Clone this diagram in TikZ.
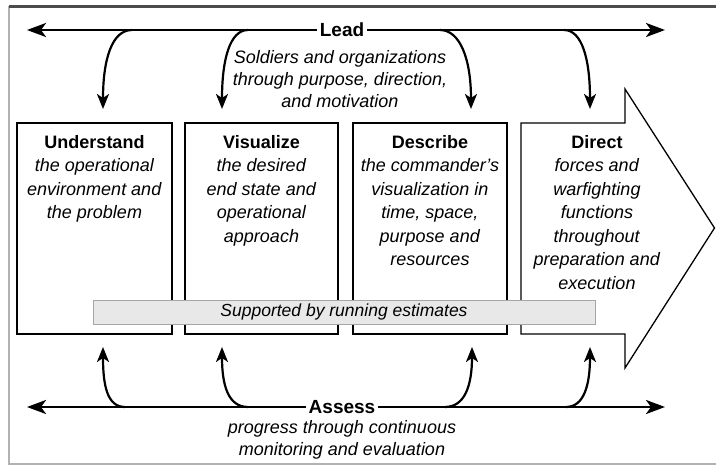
\documentclass[tikz,border=0pt]{standalone}
\usepackage{fontspec}
\setmainfont{Liberation Sans}
\usetikzlibrary{arrows.meta}
\usetikzlibrary{positioning}

\begin{document}
\begin{tikzpicture}[x=1pt,y=-1pt,
  stage/.style={draw=black,line width=1.3pt},
  stagetext/.style={anchor=north,align=center,inner sep=0pt,font=\fontsize{18}{23.5}\selectfont},
  mainline/.style={line width=2.6pt,{Stealth[length=19pt,width=14pt,inset=5pt]}-{Stealth[length=19pt,width=14pt,inset=5pt]}},
  branch/.style={line width=2.2pt,-{Stealth[length=15pt,width=12pt,inset=4pt]}},
  headword/.style={fill=white,inner sep=3pt,font=\fontsize{19}{23}\selectfont\bfseries},
  subtext/.style={anchor=north,align=center,inner sep=0pt,font=\fontsize{18}{22}\selectfont\itshape}]
 \useasboundingbox (0,0) rectangle (716,466);
 % frame
 \draw[gray!60,line width=1.4pt] (9,6) -- (9,464) -- (716,464);
 \draw[black!70,line width=3pt] (9,6) -- (716,6);
 % the four stages
 \draw[stage] (17,123) rectangle (172,334);
 \draw[stage] (185,123) rectangle (338,334);
 \draw[stage] (353,123) rectangle (507,334);
 \draw[stage,line join=miter] (521,123) -- (625,123) -- (625,89) -- (714.5,228)
   -- (625,368) -- (625,334) -- (521,334) -- cycle;
 \node[stagetext] (understand) at (94.5,135) {\textbf{Understand}\\ \textit{the operational}\\
   \textit{environment and}\\ \textit{the problem}};
 \node[stagetext] (visualize) at (261.5,135) {\textbf{Visualize}\\ \textit{the desired}\\
   \textit{end state and}\\ \textit{operational}\\ \textit{approach}};
 \node[stagetext] (describe) at (430,135) {\textbf{Describe}\\ \textit{the commander’s}\\
   \textit{visualization in}\\ \textit{time, space,}\\ \textit{purpose and}\\ \textit{resources}};
 \node[stagetext] (direct) at (597,135) {\textbf{Direct}\\ \textit{forces and}\\
   \textit{warfighting}\\ \textit{functions}\\ \textit{throughout}\\ \textit{preparation and}\\
   \textit{execution}};
 % running estimates
 \node[draw=gray!70,fill=gray!18,line width=1pt,minimum width=502pt,minimum height=24pt,
   inner sep=0pt,font=\fontsize{17.5}{20}\selectfont\itshape] (estimates) at (344,312)
   {Supported by running estimates};
 % lead
 \coordinate (leadL) at (27,30);
 \coordinate (leadR) at (665,30);
 \draw[mainline] (leadL) -- (leadR);
 \node[headword] (lead) at (342,30) {Lead};
 \node[subtext] (leadsub) at (340,50) {Soldiers and organizations\\
   through purpose, direction,\\ and motivation};
 \coordinate (l1) at (132,30);  \coordinate (d1) at (103,109);
 \coordinate (l2) at (248,30);  \coordinate (d2) at (222,109);
 \coordinate (l3) at (440,30);  \coordinate (d3) at (471,109);
 \coordinate (l4) at (564,30);  \coordinate (d4) at (590,109);
 \draw[branch] (l1) .. controls +(-20,0) and +(0,-50) .. (d1);
 \draw[branch] (l2) .. controls +(-18,0) and +(0,-50) .. (d2);
 \draw[branch] (l3) .. controls +(20,0) and +(0,-50) .. (d3);
 \draw[branch] (l4) .. controls +(18,0) and +(0,-50) .. (d4);
 % assess
 \coordinate (assessL) at (27,407);
 \coordinate (assessR) at (665,407);
 \draw[mainline] (assessL) -- (assessR);
 \node[headword] (assess) at (342,407) {Assess};
 \node[subtext] (assesssub) at (342,420) {progress through continuous\\
   monitoring and evaluation};
 \coordinate (a1) at (125,407);  \coordinate (u1) at (103,347);
 \coordinate (a2) at (248,407);  \coordinate (u2) at (222,347);
 \coordinate (a3) at (445,407);  \coordinate (u3) at (472,347);
 \coordinate (a4) at (566,407);  \coordinate (u4) at (590,347);
 \draw[branch] (a1) .. controls +(-18,0) and +(0,38) .. (u1);
 \draw[branch] (a2) .. controls +(-20,0) and +(0,38) .. (u2);
 \draw[branch] (a3) .. controls +(20,0) and +(0,38) .. (u3);
 \draw[branch] (a4) .. controls +(18,0) and +(0,38) .. (u4);
\end{tikzpicture}
\end{document}
